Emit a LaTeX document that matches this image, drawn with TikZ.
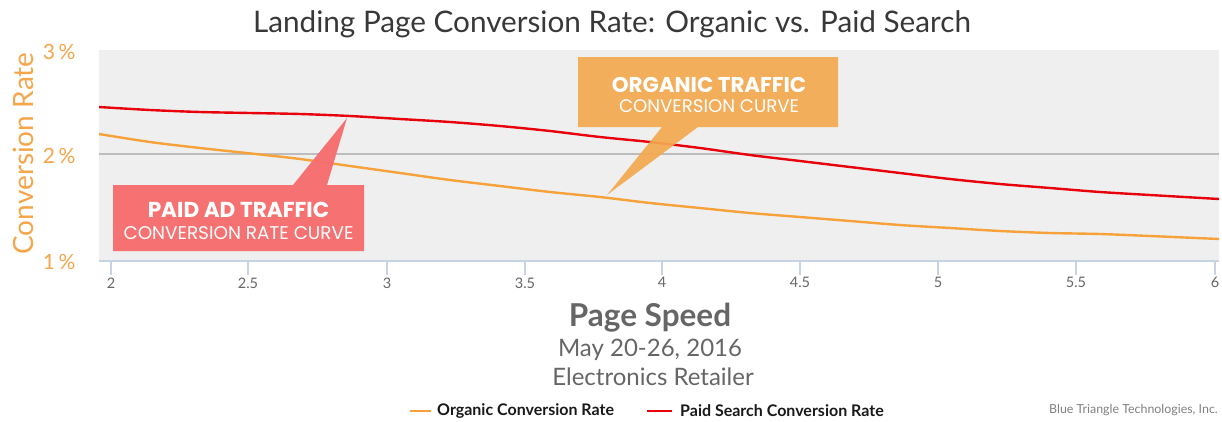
\documentclass[tikz,border=0pt]{standalone}
\usepackage{fontspec}
\setmainfont{Lato}
\newfontfamily\calloutfont{Poppins}
\begin{document}
\begin{tikzpicture}[x=1pt,y=-1pt,
  ticklbl/.style={text=gray!80!black,font=\fontsize{14.5}{16}\selectfont,anchor=north},
  ylbl/.style={text=orgtext,font=\fontsize{21}{24}\selectfont,anchor=east},
  callouttext/.style={text=white,align=center,font=\calloutfont}]
\definecolor{plotbg}{HTML}{EFEFEF}
\definecolor{orgline}{HTML}{F7A13B}
\definecolor{orgtext}{HTML}{F5A54A}
\definecolor{paidline}{HTML}{E8000B}
\definecolor{paidbox}{HTML}{F76E6E}
\definecolor{orgbox}{HTML}{F4A94F}
\definecolor{axisblue}{HTML}{C6D3E3}
\definecolor{gridgray}{HTML}{BDBDBD}
\useasboundingbox (0,0) rectangle (1222,421);
% plot area
\fill[plotbg] (99,50) rectangle (1219,261);
\draw[gridgray,line width=1.2pt] (99,154) -- (1219,154);
\draw[axisblue,line width=1.2pt] (99,261) -- (1219,261);
\foreach \x/\l in {111/2,248/2.5,387/3,525/3.5,662/4,800/4.5,938/5,1076/5.5,1215/6}{
  \draw[axisblue,line width=1.2pt] (\x,261) -- (\x,275);
  \node[ticklbl] at (\x,274) {\l};
}
% y labels
\node[ylbl] at (79,52) {3\,\%};
\node[ylbl] at (79,156) {2\,\%};
\node[ylbl] at (79,262) {1\,\%};
\node[text=orgtext,font=\fontsize{28}{30}\selectfont,rotate=90] (ytitle) at (23,153.5) {Conversion Rate};
% title
\node[text=black!78,font=\fontsize{29.7}{33}\selectfont] (title) at (612,24) {Landing Page Conversion Rate: Organic vs. Paid Search};
% curves
\begin{scope}
\clip (99,50) rectangle (1219,261);
\draw[orgline,line width=2.4pt] plot[smooth] coordinates {(99,134) (150,142) (200,148) (265,155) (300,159) (350,166) (400,173) (450,180) (500,186) (550,192) (600,197) (650,203) (700,208) (750,213) (800,217) (850,221) (900,225) (950,228) (1000,231) (1050,233) (1100,234) (1150,236) (1219,239)};
\draw[paidline,line width=2.4pt] plot[smooth] coordinates {(99,107) (150,110) (200,112) (250,113) (300,114) (350,116) (400,119) (450,122) (500,126) (550,131) (600,137) (650,142) (700,148) (750,155) (800,161) (850,167) (900,173) (950,179) (1000,184) (1050,188) (1100,192) (1150,195) (1219,199)};
\end{scope}
% paid callout
\fill[paidbox,opacity=0.97] (113,185) -- (293,185) -- (347,118) -- (327,185) -- (364,185) -- (364,251) -- (113,251) -- cycle;
\node[callouttext,font=\calloutfont\bfseries\fontsize{21.6}{24}\selectfont] (paidA) at (238.5,210) {PAID AD TRAFFIC};
\node[callouttext,font=\calloutfont\fontsize{18.4}{20}\selectfont] (paidB) at (238.5,233) {CONVERSION RATE CURVE};
% organic callout
\fill[orgbox,opacity=0.92] (578,57) -- (838,57) -- (838,127) -- (698,127) -- (607,195) -- (662,127) -- (578,127) -- cycle;
\node[callouttext,font=\calloutfont\bfseries\fontsize{21.4}{24}\selectfont] (orgA) at (709,85) {ORGANIC TRAFFIC};
\node[callouttext,font=\calloutfont\fontsize{18.2}{20}\selectfont] (orgB) at (709,106) {CONVERSION CURVE};
% x titles
\node[text=black!60,font=\bfseries\fontsize{31.5}{33}\selectfont] (xt) at (650,318) {Page Speed};
\node[text=black!60,font=\fontsize{24}{26}\selectfont] (d1) at (650,350) {May 20-26, 2016};
\node[text=black!60,font=\fontsize{24}{26}\selectfont] (d2) at (653,377) {Electronics Retailer};
% legend
\coordinate (l1a) at (410,411); \coordinate (l1b) at (431,411);
\draw[orgline,line width=2.5pt] (l1a) -- (l1b);
\node[anchor=west,inner sep=0pt,font=\bfseries\fontsize{16}{18}\selectfont,text=black!90] (leg1) at (437,411) {Organic Conversion Rate};
\coordinate (l2a) at (647,411); \coordinate (l2b) at (672,411);
\draw[paidline,line width=2.5pt] (l2a) -- (l2b);
\node[anchor=west,inner sep=0pt,font=\bfseries\fontsize{16}{18}\selectfont,text=black!90] (leg2) at (680,411) {Paid Search Conversion Rate};
\node[anchor=east,inner sep=0pt,font=\fontsize{12.4}{14}\selectfont,text=black!50] (credit) at (1218,410) {Blue Triangle Technologies, Inc.};
\end{tikzpicture}
\end{document}
